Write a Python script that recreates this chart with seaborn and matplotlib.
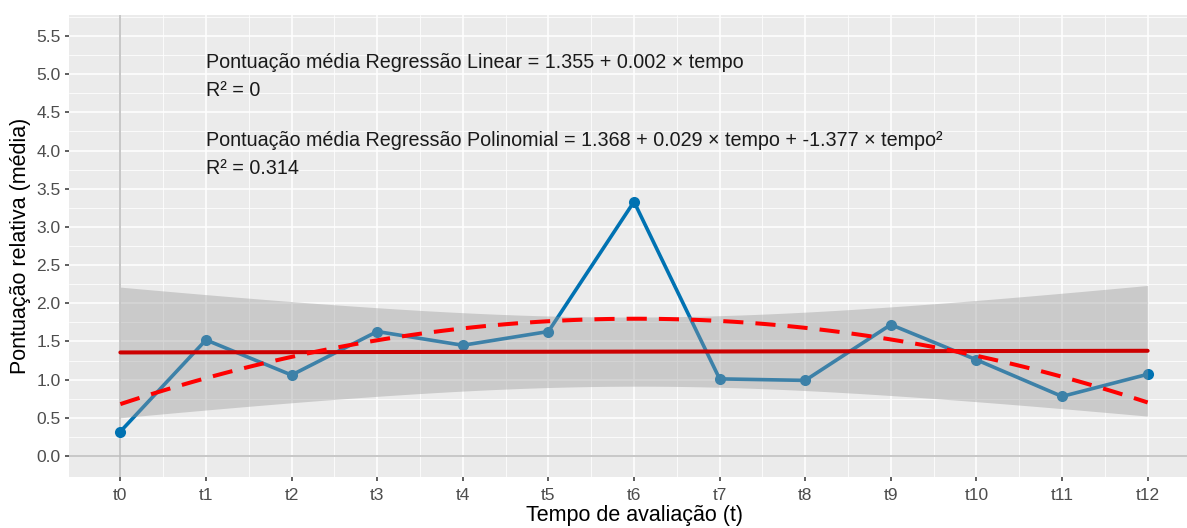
import numpy as np
import pandas as pd
import matplotlib
matplotlib.use("Agg")
import matplotlib.pyplot as plt
import seaborn as sns

# ---- data ----
categories = ["t0", "t1", "t2", "t3", "t4", "t5", "t6", "t7", "t8", "t9", "t10", "t11", "t12"]
pontuacao = [0.32, 1.52, 1.06, 1.63, 1.45, 1.63, 3.33, 1.01, 0.99, 1.72, 1.26, 0.78, 1.07]
y_ticks = [0.0, 0.5, 1.0, 1.5, 2.0, 2.5, 3.0, 3.5, 4.0, 4.5, 5.0, 5.5]
label_linear = "Pontuação média Regressão Linear = 1.355 + 0.002 × tempo\nR² = 0"
label_poly = ("Pontuação média Regressão Polinomial = 1.368 + 0.029 × tempo + -1.377 × tempo²"
              "\nR² = 0.314")
x_title = "Tempo de avaliação (t)"
y_title = "Pontuação relativa (média)"

df = pd.DataFrame({"tempo": np.arange(len(categories)), "pontuacao": pontuacao})

sns.set_theme(style="darkgrid")
plt.rcParams["font.family"] = ["Liberation Sans", "DejaVu Sans"]

fig = plt.figure(figsize=(11.87, 5.28), dpi=100)
ax = fig.add_axes([69 / 1187, 51 / 528, 1130 / 1187, 462 / 528])
ax.set_facecolor("#EBEBEB")

BLUE = "#0072B2"
# observed series
sns.lineplot(data=df, x="tempo", y="pontuacao", ax=ax, color=BLUE, lw=2.6,
             marker="o", markersize=8, markeredgewidth=0, zorder=3)

# linear fit confidence band (analytic, 95%)
t = df["tempo"].to_numpy(float)
yv = df["pontuacao"].to_numpy(float)
n = len(t)
b1, b0 = np.polyfit(t, yv, 1)
resid = yv - (b0 + b1 * t)
s = np.sqrt(np.sum(resid ** 2) / (n - 2))
grid = np.linspace(t.min(), t.max(), 200)
se = s * np.sqrt(1 / n + (grid - t.mean()) ** 2 / np.sum((t - t.mean()) ** 2))
tcrit = 2.201
fit = b0 + b1 * grid
ax.fill_between(grid, fit - tcrit * se, fit + tcrit * se, color="#999999", alpha=0.4,
                lw=0, zorder=4)

# regression lines
sns.regplot(data=df, x="tempo", y="pontuacao", ax=ax, order=1, ci=None, scatter=False,
            truncate=True, line_kws=dict(color="#CC0000", lw=2.9, zorder=5))
sns.regplot(data=df, x="tempo", y="pontuacao", ax=ax, order=2, ci=None, scatter=False,
            truncate=True, line_kws=dict(color="#FF0000", lw=2.9, dashes=(5, 3), zorder=6))

# reference lines
ax.axvline(0, color="#BEBEBE", lw=1.2, zorder=2)
ax.axhline(0, color="#BEBEBE", lw=1.2, zorder=2)

# annotations
ax.text(1, 4.97, label_linear, ha="left", va="center", fontsize=14.2, color="#1A1A1A",
        linespacing=1.62, zorder=7)
ax.text(1, 3.95, label_poly, ha="left", va="center", fontsize=14.2, color="#1A1A1A",
        linespacing=1.62, zorder=7)

# axes
ax.set_xlim(-0.6, 12.6)
ax.set_ylim(-0.275, 5.775)
ax.set_xticks(np.arange(len(categories)))
ax.set_xticklabels(categories)
ax.set_yticks(y_ticks)
ax.set_yticklabels([f"{v:.1f}" for v in y_ticks])
ax.set_xticks(np.arange(len(categories) - 1) + 0.5, minor=True)
ax.set_yticks(np.arange(0.25, 5.8, 0.5), minor=True)
ax.grid(which="major", color="white", lw=1.1)
ax.grid(which="minor", color="white", lw=0.55)
ax.set_axisbelow(True)
for sp in ax.spines.values():
    sp.set_visible(False)
ax.tick_params(which="major", length=3, width=1.1, color="#333333", pad=3,
               labelsize=12.5, labelcolor="#4D4D4D", bottom=True, left=True)
ax.tick_params(axis="x", which="major", pad=5)
ax.tick_params(which="minor", length=0)
ax.set_xlabel(x_title, fontsize=15.5, color="black", labelpad=1)
ax.set_ylabel(y_title, fontsize=15.5, color="black", labelpad=4)

fig.savefig("out.png", dpi=100)
